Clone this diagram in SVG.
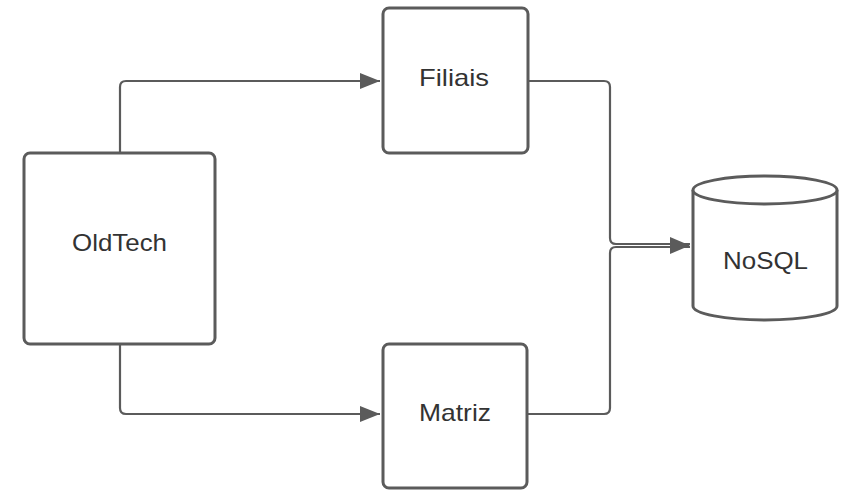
<svg xmlns="http://www.w3.org/2000/svg" width="857" height="495" viewBox="0 0 857 495">
<style>
.box{fill:#fff;stroke:#5b5b5b;stroke-width:3}
.lbl{font-family:"Liberation Sans",Arial,sans-serif;font-size:24px;fill:#333;text-anchor:middle}
.con{fill:none;stroke:#5b5b5b;stroke-width:2.2}
</style>
<defs>
<marker id="arrBig" viewBox="0 0 20 16" refX="20" refY="8" markerWidth="20" markerHeight="16" markerUnits="userSpaceOnUse" orient="auto">
<path d="M0,0 L20,8 L0,16 z" fill="#5b5b5b"/>
</marker>
</defs>
<rect width="857" height="495" fill="#fff"/>
<g id="connectors">
<path class="con" d="M120,153 V87 Q120,81 126,81 H380" marker-end="url(#arrBig)"/>
<path class="con" d="M120,344 V408 Q120,414 126,414 H380" marker-end="url(#arrBig)"/>
<path class="con" d="M528,81 H604 Q610,81 610,87 V238 Q610,244 616,244 H690"/>
<path class="con" d="M527,414 H604 Q610,414 610,408 V253 Q610,247 616,247 H690"/>
<path d="M670,237 L690,245.5 L670,254 z" fill="#5b5b5b"/>
</g>
<g id="oldtech">
<rect class="box" x="24" y="153" width="191" height="191" rx="6"/>
<text class="lbl" x="119.5" y="251" textLength="95" lengthAdjust="spacingAndGlyphs">OldTech</text>
</g>
<g id="filiais">
<rect class="box" x="383" y="8" width="145" height="145" rx="6"/>
<text class="lbl" x="454" y="86" textLength="70" lengthAdjust="spacingAndGlyphs">Filiais</text>
</g>
<g id="matriz">
<rect class="box" x="383" y="344" width="144" height="144" rx="6"/>
<text class="lbl" x="455" y="421" textLength="72" lengthAdjust="spacingAndGlyphs">Matriz</text>
</g>
<g id="nosql">
<path class="box" d="M693,190 A72,14 0 0 1 837,190 V306 A72,14 0 0 1 693,306 Z"/>
<path class="box" fill="none" d="M693,190 A72,14 0 0 0 837,190"/>
<text class="lbl" x="765.5" y="269" textLength="85" lengthAdjust="spacingAndGlyphs">NoSQL</text>
</g>
</svg>
